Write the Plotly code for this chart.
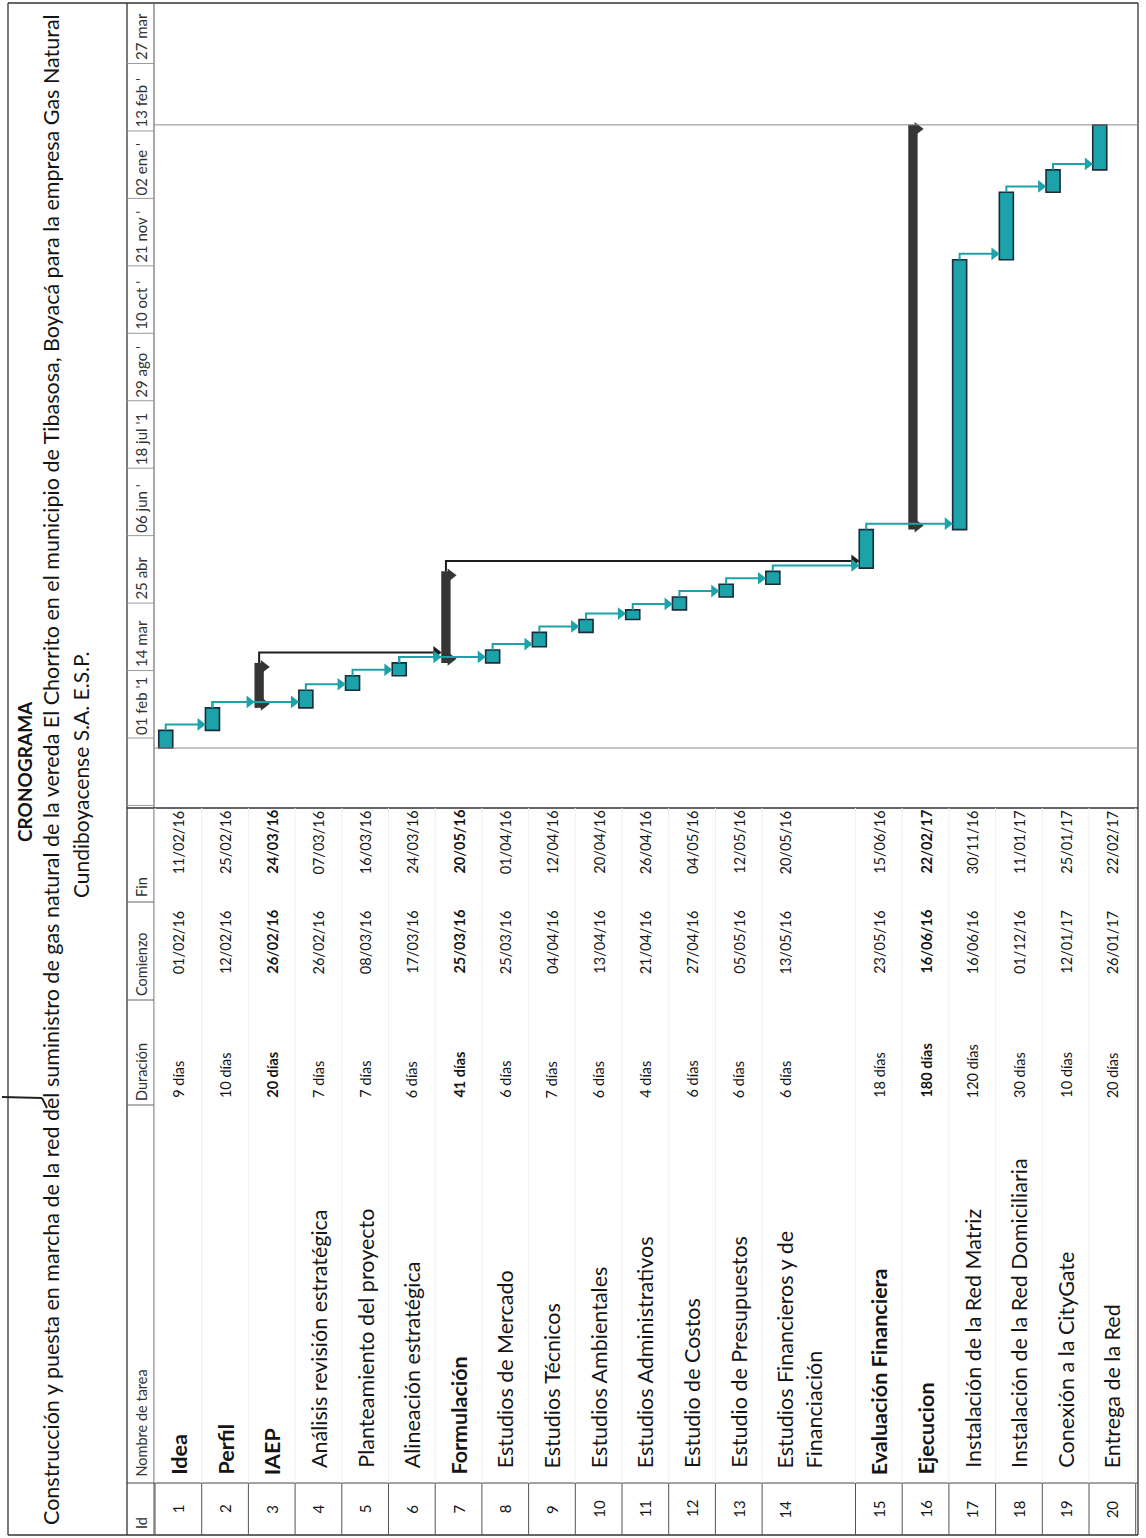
import plotly.graph_objects as go
from datetime import datetime, timedelta

# ---------------- data ----------------
ids = list(range(1, 21))
tareas = [
    "Idea", "Perfil", "IAEP", "Análisis revisión estratégica",
    "Planteamiento del proyecto", "Alineación estratégica", "Formulación",
    "Estudios de Mercado", "Estudios Técnicos", "Estudios Ambientales",
    "Estudios Administrativos", "Estudio de Costos", "Estudio de Presupuestos",
    "Estudios Financieros y de\nFinanciación", "Evaluación Financiera", "Ejecucion",
    "Instalación de la Red Matriz", "Instalación de la Red Domiciliaria",
    "Conexión a la CityGate", "Entrega de la Red",
]
duraciones = ["9 días", "10 días", "20 días", "7 días", "7 días", "6 días", "41 días",
              "6 días", "7 días", "6 días", "4 días", "6 días", "6 días", "6 días",
              "18 días", "180 días", "120 días", "30 días", "10 días", "20 días"]
comienzo = ["01/02/16", "12/02/16", "26/02/16", "26/02/16", "08/03/16", "17/03/16",
            "25/03/16", "25/03/16", "04/04/16", "13/04/16", "21/04/16", "27/04/16",
            "05/05/16", "13/05/16", "23/05/16", "16/06/16", "16/06/16", "01/12/16",
            "12/01/17", "26/01/17"]
fin = ["11/02/16", "25/02/16", "24/03/16", "07/03/16", "16/03/16", "24/03/16",
       "20/05/16", "01/04/16", "12/04/16", "20/04/16", "26/04/16", "04/05/16",
       "12/05/16", "20/05/16", "15/06/16", "22/02/17", "30/11/16", "11/01/17",
       "25/01/17", "22/02/17"]
nivel = [1, 1, 1, 2, 2, 2, 1, 2, 2, 2, 2, 2, 2, 2, 1, 1, 2, 2, 2, 2]
resumen = [3, 7, 16]
vinculos = [(1, 2), (2, 3), (2, 4), (4, 5), (5, 6), (6, 7), (6, 8), (8, 9), (9, 10),
            (10, 11), (11, 12), (12, 13), (13, 14), (14, 15), (15, 17), (17, 18),
            (18, 19), (19, 20)]
vinculos_resumen = [(3, 7), (7, 15)]
escala_fechas = ["2015-12-21", "2016-02-01", "2016-03-14", "2016-04-25", "2016-06-06",
                 "2016-07-18", "2016-08-29", "2016-10-10", "2016-11-21", "2017-01-02",
                 "2017-02-13", "2017-03-27"]
escala_etiquetas = ["21 dic '1", "01 feb '1", "14 mar", "25 abr", "06 jun '", "18 jul '1",
                    "29 ago '", "10 oct '", "21 nov '", "02 ene '", "13 feb '", "27 mar"]
encabezados = ["Id", "Nombre de tarea", "Duración", "Comienzo", "Fin"]
titulo = "CRONOGRAMA"
subtitulo1 = ("Construcción y puesta en marcha de la red del suministro de gas natural de la "
              "vereda El Chorrito en el municipio de Tibasosa, Boyacá para la empresa Gas Natural")
subtitulo2 = "Cundiboyacense S.A. E.S.P."

# ---------------- layout constants ----------------
W, H = 1146, 1538
FONT = "Lato"
TEAL = "#1ca3aa"
EDGE = "#1b2b3a"
DARK = "#353535"
ROW0, PITCH = 155.0, 46.7          # first row edge (px) and row pitch (px)
ORIG, ORIG_PX, PXD = datetime(2016, 2, 1), 748.0, 1.606   # time-scale anchor
TOP_PX, BOT_PX = 3.0, 808.0
TS_SHIFT = 10


def py(p):
    return 1 - p / H


def pxx(p):
    return p / W


def fmt(d):
    return d.strftime("%Y-%m-%d %H:%M:%S")


ini_dt = [datetime.strptime(s, "%d/%m/%y") for s in comienzo]
fin_dt = [datetime.strptime(s, "%d/%m/%y") + timedelta(days=1) for s in fin]

alturas = [len(t.split("\n")) for t in tareas]
tops, acc = [], 0
for h in alturas:
    tops.append(acc)
    acc += h
centro = [t + 0.5 for t in tops]
pos_barra = [c - 0.27 for c in centro]


def ancho(i):
    return 0.2 if i in resumen else 0.3


fig = go.Figure()

# summary bars
s_idx = [i - 1 for i in resumen]
fig.add_trace(go.Bar(
    x=[pos_barra[k] for k in s_idx],
    y=[(fin_dt[k] - ini_dt[k]).total_seconds() * 1000 for k in s_idx],
    base=[fmt(ini_dt[k]) for k in s_idx],
    width=0.2, marker=dict(color=DARK, line=dict(width=0)), showlegend=False,
    hoverinfo="skip"))
cx, cy = [], []
for k in s_idx:
    cx += [pos_barra[k] + 0.1, pos_barra[k] + 0.1]
    cy += [fmt(ini_dt[k] + timedelta(days=2.5)), fmt(fin_dt[k] - timedelta(days=2.5))]
fig.add_trace(go.Scatter(x=cx, y=cy, mode="markers",
                         marker=dict(symbol="triangle-right", size=12, color=DARK),
                         showlegend=False, hoverinfo="skip"))

# normal bars
n_idx = [k for k in range(len(ids)) if ids[k] not in resumen]
fig.add_trace(go.Bar(
    x=[pos_barra[k] for k in n_idx],
    y=[(fin_dt[k] - ini_dt[k]).total_seconds() * 1000 for k in n_idx],
    base=[fmt(ini_dt[k]) for k in n_idx],
    width=0.3, marker=dict(color=TEAL, line=dict(color=EDGE, width=1.6)),
    showlegend=False, hoverinfo="skip"))


def link_trace(pairs, gap, color):
    xs, ys, ax, ay = [], [], [], []
    for a, b in pairs:
        ya = fin_dt[a - 1] + timedelta(days=gap)
        x0 = pos_barra[a - 1]
        x1 = pos_barra[b - 1] - ancho(b) / 2 - 0.11
        xs += [x0, x0, x1, None]
        ys += [fmt(fin_dt[a - 1]), fmt(ya), fmt(ya), None]
        ax.append(x1)
        ay.append(fmt(ya))
    fig.add_trace(go.Scatter(x=xs, y=ys, mode="lines", line=dict(color=color, width=2),
                             showlegend=False, hoverinfo="skip"))
    fig.add_trace(go.Scatter(x=ax, y=ay, mode="markers",
                             marker=dict(symbol="triangle-right", size=11, color=color),
                             showlegend=False, hoverinfo="skip"))


link_trace(vinculos_resumen, 6.5, "#1e1e1e")
link_trace(vinculos, 3.7, TEAL)

# ---------------- shapes ----------------
shapes = []


def pline(x0, y0, x1, y1, color="#333", width=1.3):
    shapes.append(dict(type="line", xref="paper", yref="paper", x0=pxx(x0), x1=pxx(x1),
                       y0=py(y0), y1=py(y1), line=dict(color=color, width=width)))


pline(8, 3, 1138, 3)
pline(8, 1535, 1138, 1535)
pline(8, 3, 8, 1535)
pline(1138, 3, 1138, 1535)
pline(127, 3, 127, 1535)
pline(154, 3, 154, 1535, "#555", 1)
pline(127, 808, 1138, 808)
pline(127, 1483, 1138, 1483, "#444", 1)
for yy in [1105, 1000, 902]:
    pline(127, yy, 154, yy, "#666", 1)
# stray pen mark from the scan
pline(2, 1097, 42, 1098, "#222", 2)
pline(42, 1098, 47, 1108, "#222", 2)

# row borders
bordes = sorted(set(tops + [acc]))
for b in bordes:
    shapes.append(dict(type="line", xref="x", yref="paper", x0=b, x1=b, y0=py(1483), y1=py(1535),
                       line=dict(color="#555", width=1)))
    shapes.append(dict(type="line", xref="x", yref="paper", x0=b, x1=b, y0=py(808), y1=py(1483),
                       line=dict(color="#f0f0f0", width=1)))

# project start / finish lines
for d in [min(ini_dt), max(fin_dt)]:
    shapes.append(dict(type="line", xref="paper", yref="y", x0=pxx(154), x1=pxx(1138),
                       y0=fmt(d), y1=fmt(d), line=dict(color="#8c8c8c", width=1)))

# timescale separators
for d in escala_fechas:
    shapes.append(dict(type="line", xref="paper", yref="y", ysizemode="pixel", yanchor=d,
                       x0=pxx(127), x1=pxx(154), y0=TS_SHIFT, y1=TS_SHIFT,
                       line=dict(color="#9a9a9a", width=1)))

# ---------------- annotations ----------------
ann = []


def rot(x, y, text, size, xref="x", yref="paper", yanchor="bottom", color="#151515", yshift=0):
    ann.append(dict(x=x, y=y, xref=xref, yref=yref, text=text, textangle=-90, showarrow=False,
                    xanchor="center", yanchor=yanchor, yshift=yshift,
                    font=dict(family=FONT, size=size, color=color)))


# header
for txt, yb in zip(encabezados, [1531, 1479, 1103, 998, 899]):
    rot(pxx(141), py(yb), txt, 14.5, xref="paper", color="#333")

# timescale labels
for d, lab in zip(escala_fechas, escala_etiquetas):
    rot(pxx(141), d, lab, 15, xref="paper", yref="y", color="#333", yshift=TS_SHIFT + 1)

# table rows
for k in range(len(ids)):
    c = centro[k]
    bold_name = nivel[k] == 1
    bold_val = ids[k] in resumen
    rot(c, py(1509), str(ids[k]), 15, yanchor="middle")
    for j, line in enumerate(tareas[k].split("\n")):
        t = f"<b>{line}</b>" if bold_name else line
        rot(c + j * 29 / PITCH, py(1477 if bold_name else 1470), t, 21.5)
    for txt, yb in zip([duraciones[k], comienzo[k], fin[k]], [1100, 976, 876]):
        rot(c, py(yb), f"<b>{txt}</b>" if bold_val else txt, 14.5)

# title
rot(pxx(24), py(772), f"<b>{titulo}</b>", 19, xref="paper", yanchor="middle")
rot(pxx(51), py(770), subtitulo1, 21.5, xref="paper", yanchor="middle")
rot(pxx(80), py(775), subtitulo2, 21, xref="paper", yanchor="middle")

yr = [fmt(ORIG - timedelta(days=(BOT_PX - ORIG_PX) / PXD)),
      fmt(ORIG + timedelta(days=(ORIG_PX - TOP_PX) / PXD))]

fig.update_layout(
    width=W, height=H, margin=dict(l=0, r=0, t=0, b=0),
    paper_bgcolor="white", plot_bgcolor="rgba(0,0,0,0)",
    showlegend=False, barmode="overlay",
    xaxis=dict(range=[-ROW0 / PITCH, (W - ROW0) / PITCH], domain=[0, 1], visible=False,
               fixedrange=True),
    yaxis=dict(type="date", range=yr, domain=[py(BOT_PX), py(TOP_PX)], visible=False,
               fixedrange=True),
    shapes=shapes, annotations=ann,
    font=dict(family=FONT),
)

fig.write_html("out.html")
